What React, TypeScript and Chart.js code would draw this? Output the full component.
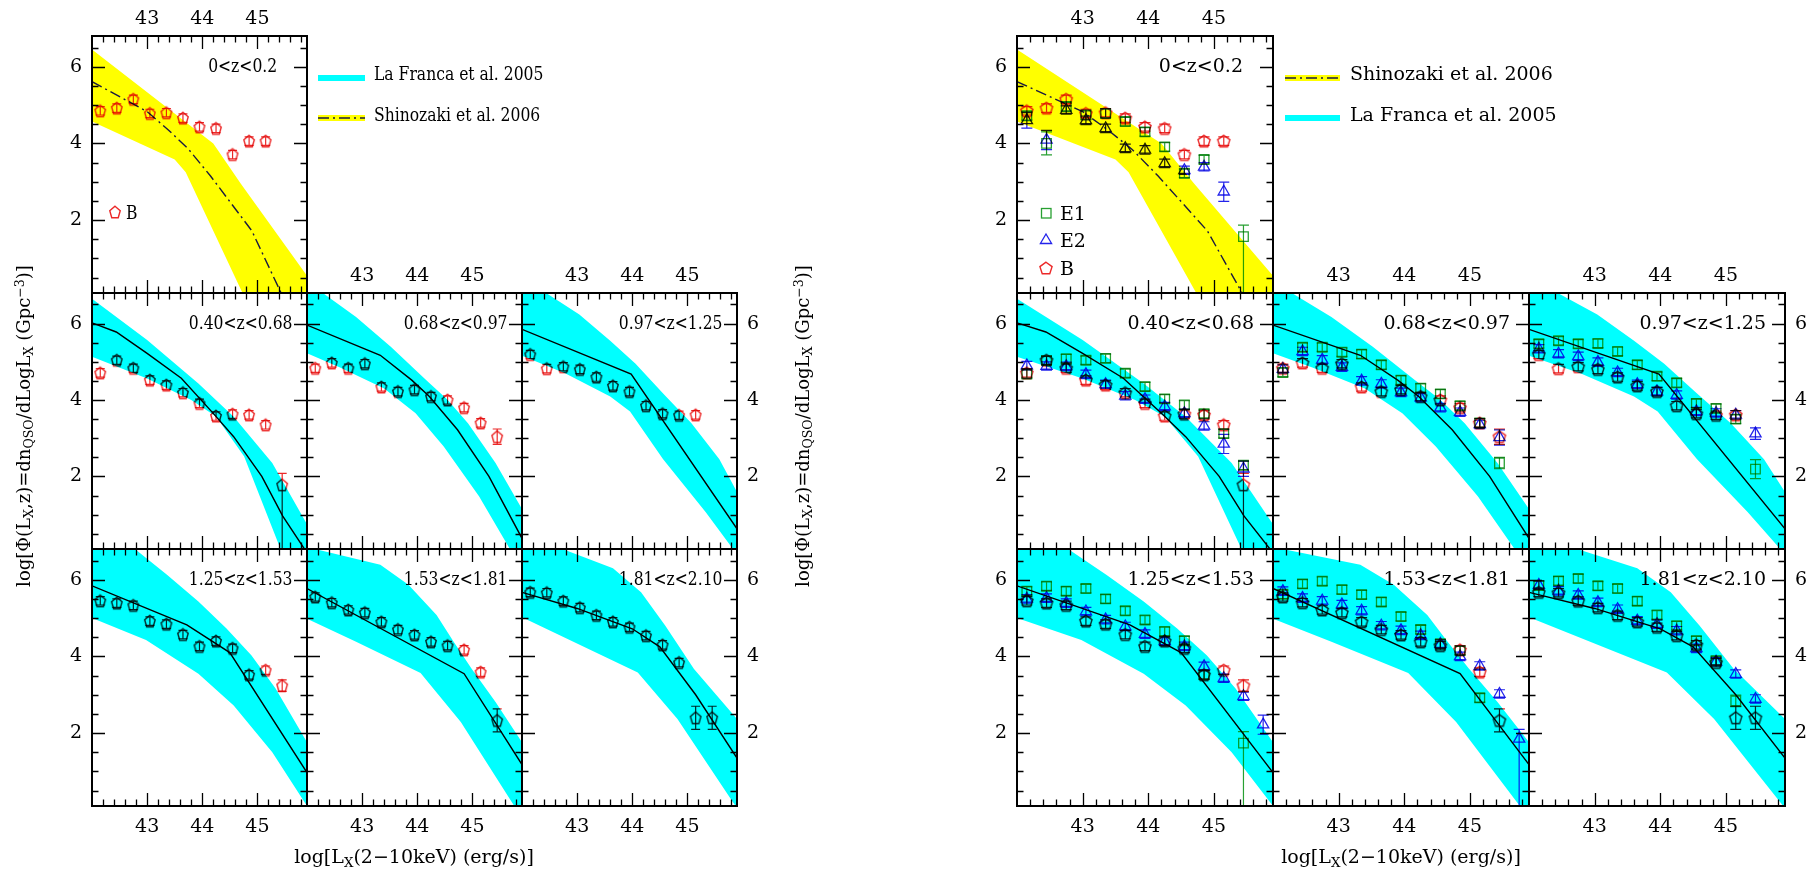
import React, { useEffect, useRef } from 'react';
import { Chart, registerables } from 'chart.js';

Chart.register(...registerables);

const FONT = '"DejaVu Serif", "Liberation Serif", serif';

// ---------------- data ----------------
const LX = [42.15, 42.45, 42.75, 43.05, 43.35, 43.65, 43.95, 44.25, 44.55, 44.85, 45.15, 45.45, 45.75];
const X_MIN = 42.0;
const X_MAX = 45.9;
const Y_MIN = 0.1;
const Y_MAX = 6.8;
const X_TICKS = [43, 44, 45];
const Y_TICKS = [2, 4, 6];
const Z_LABELS = ['0<z<0.2', '0.40<z<0.68', '0.68<z<0.97', '0.97<z<1.25', '1.25<z<1.53', '1.53<z<1.81', '1.81<z<2.10'];

// sample B (red pentagons)
const B_Z0 = [4.85, 4.92, 5.15, 4.78, 4.8, 4.66, 4.43, 4.39, 3.71, 4.06, 4.06];
const B_Z1 = [4.71, 5.04, 4.83, 4.52, 4.39, 4.19, 3.91, 3.58, 3.63, 3.61, 3.35, 1.78];
const B_Z2 = [4.83, 4.97, 4.83, 4.95, 4.34, 4.22, 4.27, 4.09, 4.0, 3.8, 3.4, 3.04];
const B_Z3 = [5.19, 4.82, 4.87, 4.8, 4.6, 4.37, 4.22, 3.85, 3.64, 3.6, 3.61];
const B_Z4 = [5.45, 5.39, 5.33, 4.92, 4.84, 4.57, 4.26, 4.4, 4.21, 3.52, 3.64, 3.24];
const B_Z5 = [5.55, 5.4, 5.21, 5.14, 4.9, 4.7, 4.56, 4.38, 4.28, 4.17, 3.59, 2.33];
const B_Z6 = [5.67, 5.66, 5.44, 5.27, 5.07, 4.9, 4.76, 4.54, 4.3, 3.84, 2.4, 2.4];

// sample E1 (green squares)
const E1_Z0 = [4.72, 4.0, 4.96, 4.74, 4.78, 4.57, 4.3, 3.91, 3.22, 3.58, null, 1.57];
const E1_Z1 = [4.68, 5.03, 5.08, 5.04, 5.09, 4.7, 4.35, 4.03, 3.87, 3.64, 3.12, 2.29];
const E1_Z2 = [4.72, 5.38, 5.38, 5.25, 5.2, 4.92, 4.52, 4.31, 4.16, 3.85, 3.4, 2.35];
const E1_Z3 = [5.47, 5.55, 5.47, 5.48, 5.27, 4.92, 4.62, 4.45, 3.91, 3.78, 3.5, 2.19];
const E1_Z4 = [5.7, 5.83, 5.7, 5.77, 5.5, 5.19, 4.95, 4.65, 4.41, 3.52, null, 1.74];
const E1_Z5 = [5.62, 5.89, 5.96, 5.74, 5.61, 5.42, 5.04, 4.7, 4.33, 4.15, 2.92];
const E1_Z6 = [5.85, 5.97, 6.03, 5.84, 5.77, 5.44, 5.08, 4.8, 4.41, 3.89, 2.84];

// sample E2 (blue triangles)
const E2_Z0 = [4.6, 4.09, 4.87, 4.6, 4.39, 3.87, 3.83, 3.48, 3.3, 3.39, 2.74];
const E2_Z1 = [4.9, 4.89, 4.88, 4.67, 4.41, 4.11, 4.02, 3.83, 3.65, 3.32, 2.85, 2.2];
const E2_Z2 = [4.81, 5.27, 5.05, 4.86, 4.5, 4.42, 4.2, 4.06, 3.8, 3.68, 3.36, 3.02];
const E2_Z3 = [5.34, 5.21, 5.14, 4.99, 4.72, 4.41, 4.22, 4.13, 3.7, 3.66, 3.61, 3.12];
const E2_Z4 = [5.5, 5.52, 5.39, 5.17, 4.96, 4.78, 4.58, 4.39, 4.26, 3.74, 3.43, 2.96, 2.22];
const E2_Z5 = [5.7, 5.52, 5.45, 5.35, 5.19, 4.8, 4.68, 4.55, 4.32, 4.0, 3.75, 3.02, 1.85];
const E2_Z6 = [5.86, 5.71, 5.6, 5.41, 5.23, 4.93, 4.84, 4.67, 4.21, 3.86, 3.54, 2.89];

// default error and the larger ones: [bin index, +err, -err]
const ERR = 0.11;
const B_ERRS = [[], [[11, 0.3, 2.0]], [[11, 0.2, 0.2]], [], [[11, 0.15, 0.15]], [[11, 0.3, 0.3]], [[10, 0.3, 0.3], [11, 0.3, 0.3]]];
const E1_ERRS = [[[1, 0.3, 0.3], [11, 0.3, 2.0]], [], [[11, 0.15, 0.15]], [[11, 0.25, 0.25]], [[11, 0.3, 2.0]], [], [[10, 0.15, 0.15]]];
const E2_ERRS = [[[0, 0.2, 0.2], [1, 0.25, 0.25], [10, 0.25, 0.25]], [[10, 0.25, 0.25], [11, 0.2, 0.2]], [[11, 0.2, 0.2]], [[11, 0.15, 0.15]], [[12, 0.25, 0.25]], [[12, 0.25, 2.0]], []];

// models: Shinozaki et al. 2006 (z0) and La Franca et al. 2005 (others) [logLx, logPhi]
const MODEL_Z0 = [[42.0, 5.61], [43.0, 4.83], [43.4, 4.33], [43.75, 3.85], [44.15, 3.15], [44.9, 1.72], [45.43, 0.1], [45.9, -1.3]];
const UPPER_Z0 = [[42.0, 6.45], [44.2, 4.0], [44.7, 2.95], [45.9, 0.55]];
const LOWER_Z0 = [[42.0, 4.57], [43.5, 3.58], [43.7, 3.25], [44.73, 0.1], [45.9, -3.5]];

const MODEL_Z1 = [[42.0, 6.02], [42.44, 5.78], [43.0, 5.22], [43.62, 4.57], [44.2, 3.65], [44.57, 3.04], [45.08, 2.0], [45.46, 0.96], [45.9, 0.0]];
const UPPER_Z1 = [[42.0, 6.65], [43.0, 5.57], [43.93, 4.43], [44.57, 3.56], [45.27, 2.35], [45.9, 0.75]];
const LOWER_Z1 = [[42.0, 5.13], [43.0, 4.56], [43.8, 4.0], [44.25, 3.57], [44.76, 2.52], [45.42, 0.1], [45.9, -1.1]];

const MODEL_Z2 = [[42.0, 5.96], [43.33, 5.17], [43.9, 4.52], [44.22, 4.09], [44.73, 3.22], [45.3, 2.0], [45.9, 0.38]];
const UPPER_Z2 = [[42.0, 7.1], [42.89, 6.17], [43.52, 5.39], [44.16, 4.52], [44.54, 4.02], [44.92, 3.39], [45.42, 2.35], [45.9, 1.15]];
const LOWER_Z2 = [[42.0, 5.22], [42.6, 4.85], [43.4, 4.3], [43.97, 3.65], [44.48, 2.78], [45.12, 1.48], [45.68, 0.1], [45.9, -0.45]];

const MODEL_Z3 = [[42.0, 5.85], [43.98, 4.68], [45.9, 0.63]];
const UPPER_Z3 = [[42.0, 7.2], [42.48, 6.76], [43.04, 6.24], [43.6, 5.55], [44.06, 4.95], [44.56, 4.17], [45.07, 3.4], [45.58, 2.45], [45.9, 1.59]];
const LOWER_Z3 = [[42.0, 5.16], [42.79, 4.69], [43.6, 4.09], [43.96, 3.7], [44.56, 2.45], [45.33, 1.07], [45.8, 0.15], [45.9, -0.05]];

const MODEL_Z4 = [[42.0, 5.84], [43.72, 4.82], [44.5, 4.1], [45.9, 0.97]];
const UPPER_Z4 = [[42.0, 7.4], [42.79, 6.79], [43.36, 6.13], [43.93, 5.43], [44.44, 4.73], [44.89, 4.03], [45.33, 3.16], [45.9, 1.76]];
const LOWER_Z4 = [[42.0, 5.0], [42.98, 4.43], [43.93, 3.55], [44.57, 2.72], [45.27, 1.5], [45.9, 0.1]];

const MODEL_Z5 = [[42.0, 5.77], [44.85, 3.55], [45.9, 1.18]];
const UPPER_Z5 = [[42.0, 6.85], [43.33, 6.39], [43.84, 5.87], [44.35, 5.08], [44.66, 4.38], [44.98, 3.69], [45.42, 2.81], [45.9, 1.76]];
const LOWER_Z5 = [[42.0, 4.98], [42.89, 4.38], [44.06, 3.57], [44.79, 2.29], [45.76, 0.1], [45.9, -0.15]];

const MODEL_Z6 = [[42.0, 5.67], [43.0, 5.25], [44.0, 4.72], [44.5, 4.25], [45.15, 3.0], [45.9, 1.35]];
const UPPER_Z6 = [[42.0, 7.2], [43.65, 6.3], [44.16, 5.67], [44.6, 4.8], [45.12, 3.67], [45.9, 2.37]];
const LOWER_Z6 = [[42.0, 5.02], [44.1, 3.58], [44.82, 2.37], [45.83, 0.19], [45.9, 0.05]];

const B_SERIES = [B_Z0, B_Z1, B_Z2, B_Z3, B_Z4, B_Z5, B_Z6];
const E1_SERIES = [E1_Z0, E1_Z1, E1_Z2, E1_Z3, E1_Z4, E1_Z5, E1_Z6];
const E2_SERIES = [E2_Z0, E2_Z1, E2_Z2, E2_Z3, E2_Z4, E2_Z5, E2_Z6];
const MODELS = [MODEL_Z0, MODEL_Z1, MODEL_Z2, MODEL_Z3, MODEL_Z4, MODEL_Z5, MODEL_Z6];
const UPPERS = [UPPER_Z0, UPPER_Z1, UPPER_Z2, UPPER_Z3, UPPER_Z4, UPPER_Z5, UPPER_Z6];
const LOWERS = [LOWER_Z0, LOWER_Z1, LOWER_Z2, LOWER_Z3, LOWER_Z4, LOWER_Z5, LOWER_Z6];

// ---------------- layout / style ----------------
const W = 1819;
const H = 872;
const M = 50;
const LEFT_COLS = [92, 307, 522, 737];
const RIGHT_COLS = [1017, 1273, 1529, 1785];
const ROWS = [36, 293, 549, 806];
const SLOTS = [
  [0, 0, 0],
  [0, 1, 1],
  [1, 1, 2],
  [2, 1, 3],
  [0, 2, 4],
  [1, 2, 5],
  [2, 2, 6],
];
const CYAN = 'rgb(0,255,255)';
const YELLOW = 'rgb(255,255,0)';
const RED = 'rgb(236,40,40)';
const GREEN = 'rgb(40,160,50)';
const BLUE = 'rgb(35,35,235)';
const TEXT_PX = 19;
const LEFT_SQUEEZE = 0.82;

function toXY(a: number[][]) {
  return a.map((p) => ({ x: p[0], y: p[1] }));
}

function withErr(vals: (number | null)[], big: number[][]) {
  const out: { x: number; y: number; ep: number; em: number }[] = [];
  vals.forEach((v, i) => {
    if (v === null || v === undefined) return;
    const e = big.find((b) => b[0] === i);
    out.push({ x: LX[i], y: v, ep: e ? e[1] : ERR, em: e ? e[2] : ERR });
  });
  return out;
}

const pentCache: Record<string, HTMLCanvasElement> = {};
function pentagon(rx: number, ry: number): HTMLCanvasElement {
  const key = rx + '_' + ry;
  if (pentCache[key]) return pentCache[key];
  const c = document.createElement('canvas');
  c.width = 18;
  c.height = 18;
  const g = c.getContext('2d')!;
  g.strokeStyle = RED;
  g.lineWidth = 1.4;
  g.beginPath();
  const cx = 9;
  const cy = 9 + 0.095 * ry;
  for (let k = 0; k < 5; k++) {
    const a = -Math.PI / 2 + (k * 2 * Math.PI) / 5;
    const px = cx + rx * Math.cos(a);
    const py = cy + ry * Math.sin(a);
    if (k === 0) g.moveTo(px, py);
    else g.lineTo(px, py);
  }
  g.closePath();
  g.stroke();
  pentCache[key] = c;
  return c;
}

const blendPlugin = {
  id: 'blendErr',
  beforeDatasetDraw(chart: any, args: any) {
    const ds = chart.data.datasets[args.index];
    if (ds.blend) chart.ctx.globalCompositeOperation = 'multiply';
  },
  afterDatasetDraw(chart: any, args: any) {
    const ds = chart.data.datasets[args.index];
    if (!ds.blend) return;
    const ctx = chart.ctx;
    const a = chart.chartArea;
    const xs = chart.scales.x;
    const ys = chart.scales.y;
    ctx.save();
    ctx.beginPath();
    ctx.rect(a.left, a.top, a.right - a.left, a.bottom - a.top);
    ctx.clip();
    ctx.strokeStyle = ds.errColor;
    ctx.lineWidth = 1.2;
    ctx.beginPath();
    const cap = ds.cap;
    for (const p of ds.data) {
      const px = xs.getPixelForValue(p.x);
      const y1 = ys.getPixelForValue(p.y + p.ep);
      const y2 = ys.getPixelForValue(p.y - p.em);
      ctx.moveTo(px, y1);
      ctx.lineTo(px, y2);
      ctx.moveTo(px - cap, y1);
      ctx.lineTo(px + cap, y1);
      ctx.moveTo(px - cap, y2);
      ctx.lineTo(px + cap, y2);
    }
    ctx.stroke();
    ctx.restore();
    ctx.globalCompositeOperation = 'source-over';
  },
};

const framePlugin = {
  id: 'frameTicks',
  afterDraw(chart: any) {
    const ctx = chart.ctx;
    const a = chart.chartArea;
    const xs = chart.scales.x;
    const ys = chart.scales.y;
    ctx.save();
    ctx.strokeStyle = '#000';
    ctx.lineWidth = 1.3;
    ctx.beginPath();
    for (let i = 1; i < 20; i++) {
      const v = X_MIN + i * 0.2;
      if (v >= X_MAX - 1e-6) break;
      const px = Math.round(xs.getPixelForValue(v)) + 0.5;
      const major = Math.abs(v - Math.round(v)) < 1e-6;
      const L = major ? 13 : 6.5;
      ctx.moveTo(px, a.bottom);
      ctx.lineTo(px, a.bottom - L);
      ctx.moveTo(px, a.top);
      ctx.lineTo(px, a.top + L);
    }
    for (let i = 1; i < 14; i++) {
      const v = i * 0.5;
      if (v <= Y_MIN || v >= Y_MAX) continue;
      const py = Math.round(ys.getPixelForValue(v)) + 0.5;
      const major = Math.abs(v % 2) < 1e-6;
      const L = major ? 13 : 6.5;
      ctx.moveTo(a.left, py);
      ctx.lineTo(a.left + L, py);
      ctx.moveTo(a.right, py);
      ctx.lineTo(a.right - L, py);
    }
    ctx.stroke();
    ctx.lineWidth = 2;
    ctx.strokeRect(a.left, a.top, a.right - a.left, a.bottom - a.top);
    ctx.restore();
  },
};

function axisX(pos: string, show: boolean) {
  return {
    type: 'linear',
    axis: 'x',
    position: pos,
    min: X_MIN,
    max: X_MAX,
    grid: { display: false, drawTicks: false },
    border: { display: false },
    ticks: {
      display: show,
      font: { family: FONT, size: TEXT_PX },
      color: '#000',
      padding: pos === 'top' ? 6 : 10,
      maxRotation: 0,
      autoSkip: false,
      callback: (v: any) => String(v),
    },
    afterBuildTicks: (s: any) => {
      s.ticks = X_TICKS.map((v) => ({ value: v }));
    },
    afterFit: (s: any) => {
      s.height = M;
    },
  };
}

function axisY(pos: string, show: boolean) {
  return {
    type: 'linear',
    axis: 'y',
    position: pos,
    min: Y_MIN,
    max: Y_MAX,
    grid: { display: false, drawTicks: false },
    border: { display: false },
    ticks: {
      display: show,
      font: { family: FONT, size: TEXT_PX },
      color: '#000',
      padding: 10,
      maxRotation: 0,
      autoSkip: false,
      callback: (v: any) => String(v),
    },
    afterBuildTicks: (s: any) => {
      s.ticks = Y_TICKS.map((v) => ({ value: v }));
    },
    afterFit: (s: any) => {
      s.width = M;
    },
  };
}

type PanelProps = { fig: 'L' | 'R'; col: number; row: number; z: number };

function Panel({ fig, col, row, z }: PanelProps) {
  const ref = useRef<HTMLCanvasElement>(null);
  const cols = fig === 'L' ? LEFT_COLS : RIGHT_COLS;
  const x0 = cols[col];
  const w = cols[col + 1] - cols[col];
  const y0 = ROWS[row];
  const h = ROWS[row + 1] - ROWS[row];
  useEffect(() => {
    const isR = fig === 'R';
    const datasets: any[] = [];
    datasets.push({
      data: toXY(UPPERS[z]),
      borderWidth: 0,
      pointRadius: 0,
      fill: '+1',
      backgroundColor: z === 0 ? YELLOW : CYAN,
      order: 10,
    });
    datasets.push({ data: toXY(LOWERS[z]), borderWidth: 0, pointRadius: 0, fill: false, order: 9 });
    datasets.push({
      data: toXY(MODELS[z]),
      borderColor: z === 0 ? '#1a1a40' : '#000',
      borderWidth: 1.4,
      borderDash: z === 0 ? [11, 4, 2, 4] : [],
      pointRadius: 0,
      fill: false,
      order: 5,
    });
    const cap = isR ? 5.5 : 4.5;
    if (isR) {
      datasets.push({
        data: withErr(E1_SERIES[z], E1_ERRS[z]),
        showLine: false,
        pointStyle: 'rect',
        pointRadius: 6.8,
        pointBorderWidth: 1.3,
        pointBorderColor: GREEN,
        pointBackgroundColor: 'rgba(0,0,0,0)',
        blend: true,
        errColor: GREEN,
        cap,
        order: 3,
      });
      datasets.push({
        data: withErr(E2_SERIES[z], E2_ERRS[z]),
        showLine: false,
        pointStyle: 'triangle',
        pointRadius: 6.5,
        pointBorderWidth: 1.3,
        pointBorderColor: BLUE,
        pointBackgroundColor: 'rgba(0,0,0,0)',
        blend: true,
        errColor: BLUE,
        cap,
        order: 2,
      });
    }
    datasets.push({
      data: withErr(B_SERIES[z], B_ERRS[z]),
      showLine: false,
      pointStyle: isR ? pentagon(6.4, 6.4) : pentagon(5.5, 6.4),
      pointRadius: 6,
      pointBorderColor: RED,
      blend: true,
      errColor: RED,
      cap,
      order: 1,
    });
    const top = row === 0 || (row === 1 && col > 0);
    const chart = new Chart(ref.current!, {
      type: 'line',
      data: { datasets },
      options: {
        animation: false,
        responsive: false,
        maintainAspectRatio: false,
        devicePixelRatio: 1,
        events: [],
        layout: { padding: 0 },
        plugins: { legend: { display: false }, tooltip: { enabled: false } },
        scales: {
          x: axisX('bottom', row === 2),
          xt: axisX('top', top),
          y: axisY('left', col === 0),
          yr: axisY('right', col === 2),
        },
      } as any,
      plugins: [blendPlugin, framePlugin] as any,
    });
    return () => chart.destroy();
  }, [fig, col, row, z]);
  return (
    <canvas
      ref={ref}
      width={w + 2 * M}
      height={h + 2 * M}
      style={{ position: 'absolute', left: x0 - M, top: y0 - M, width: w + 2 * M, height: h + 2 * M }}
    />
  );
}

const txt: React.CSSProperties = {
  position: 'absolute',
  fontFamily: FONT,
  fontSize: TEXT_PX,
  color: '#000',
  whiteSpace: 'nowrap',
  lineHeight: 1,
};

function PanelLabels({ fig }: { fig: 'L' | 'R' }) {
  const cols = fig === 'L' ? LEFT_COLS : RIGHT_COLS;
  const sx = fig === 'L' ? LEFT_SQUEEZE : 1;
  return (
    <>
      {SLOTS.map(([col, row, z]) => {
        const xr = cols[col + 1] - (z === 0 ? 30 : fig === 'L' ? 15 : 19);
        const yc = ROWS[row] + (Y_MAX - 6.05) * ((ROWS[row + 1] - ROWS[row]) / (Y_MAX - Y_MIN));
        return (
          <div
            key={z}
            style={{
              ...txt,
              right: W - xr,
              top: yc,
              transform: `translateY(-50%) scaleX(${sx})`,
              transformOrigin: 'right center',
            }}
          >
            {Z_LABELS[z]}
          </div>
        );
      })}
    </>
  );
}

function Sub({ children }: { children: React.ReactNode }) {
  return <span style={{ fontSize: '0.7em', verticalAlign: '-0.3em' }}>{children}</span>;
}

function Sup({ children }: { children: React.ReactNode }) {
  return <span style={{ fontSize: '0.7em', verticalAlign: '0.45em' }}>{children}</span>;
}

function XTitle({ cx }: { cx: number }) {
  return (
    <div style={{ ...txt, left: cx, top: 858, transform: 'translate(-50%,-50%)' }}>
      log[L<Sub>X</Sub>(2−10keV) (erg/s)]
    </div>
  );
}

function YTitle({ cx }: { cx: number }) {
  return (
    <div style={{ ...txt, fontSize: 18, left: cx, top: 426, transform: 'translate(-50%,-50%) rotate(-90deg)' }}>
      log[Φ(L<Sub>X</Sub>,z)=dn<Sub>QSO</Sub>/dLogL<Sub>X</Sub> (Gpc<Sup>−3</Sup>)]
    </div>
  );
}

function pentPts(cx: number, cy: number, rx: number, ry: number) {
  const pts: string[] = [];
  for (let k = 0; k < 5; k++) {
    const a = -Math.PI / 2 + (k * 2 * Math.PI) / 5;
    pts.push(`${cx + rx * Math.cos(a)},${cy + 0.095 * ry + ry * Math.sin(a)}`);
  }
  return pts.join(' ');
}

function LegendGlyphs() {
  const dash = '11 4 2 4';
  return (
    <svg width={W} height={H} style={{ position: 'absolute', left: 0, top: 0, pointerEvents: 'none' }}>
      {/* left figure */}
      <rect x={318} y={75} width={47} height={6} fill={CYAN} />
      <rect x={318} y={115} width={47} height={6} fill={YELLOW} />
      <line x1={318} y1={118} x2={365} y2={118} stroke="#1a1a40" strokeWidth={1.4} strokeDasharray={dash} />
      <polygon points={pentPts(115, 212, 5.5, 6.4)} fill="none" stroke={RED} strokeWidth={1.4} />
      {/* right figure */}
      <rect x={1285} y={75} width={55} height={6} fill={YELLOW} />
      <line x1={1285} y1={78} x2={1340} y2={78} stroke="#1a1a40" strokeWidth={1.4} strokeDasharray={dash} />
      <rect x={1285} y={115} width={55} height={6} fill={CYAN} />
      <rect x={1041.5} y={208.5} width={9.5} height={9.5} fill="none" stroke={GREEN} strokeWidth={1.3} />
      <polygon points={`1046,234 1051.6,243.5 1040.4,243.5`} fill="none" stroke={BLUE} strokeWidth={1.3} />
      <polygon points={pentPts(1046, 268, 6.4, 6.4)} fill="none" stroke={RED} strokeWidth={1.4} />
    </svg>
  );
}

const leftTxt = (left: number, top: number): React.CSSProperties => ({
  ...txt,
  left,
  top,
  transform: `translateY(-50%) scaleX(${LEFT_SQUEEZE})`,
  transformOrigin: 'left center',
});

export default function App() {
  return (
    <div style={{ position: 'absolute', left: 0, top: 0, width: W, height: H, background: '#fff', overflow: 'hidden' }}>
      {SLOTS.map(([col, row, z]) => (
        <Panel key={'L' + z} fig="L" col={col} row={row} z={z} />
      ))}
      {SLOTS.map(([col, row, z]) => (
        <Panel key={'R' + z} fig="R" col={col} row={row} z={z} />
      ))}
      <LegendGlyphs />
      <PanelLabels fig="L" />
      <PanelLabels fig="R" />
      {/* left legend */}
      <div style={leftTxt(374, 73)}>La Franca et al. 2005</div>
      <div style={leftTxt(374, 114)}>Shinozaki et al. 2006</div>
      <div style={leftTxt(126, 212)}>B</div>
      {/* right legend */}
      <div style={{ ...txt, left: 1350, top: 73, transform: 'translateY(-50%)' }}>Shinozaki et al. 2006</div>
      <div style={{ ...txt, left: 1350, top: 114, transform: 'translateY(-50%)' }}>La Franca et al. 2005</div>
      <div style={{ ...txt, left: 1060, top: 213, transform: 'translateY(-50%)' }}>E1</div>
      <div style={{ ...txt, left: 1060, top: 240, transform: 'translateY(-50%)' }}>E2</div>
      <div style={{ ...txt, left: 1060, top: 268, transform: 'translateY(-50%)' }}>B</div>
      <XTitle cx={414} />
      <XTitle cx={1401} />
      <YTitle cx={25} />
      <YTitle cx={804} />
    </div>
  );
}
